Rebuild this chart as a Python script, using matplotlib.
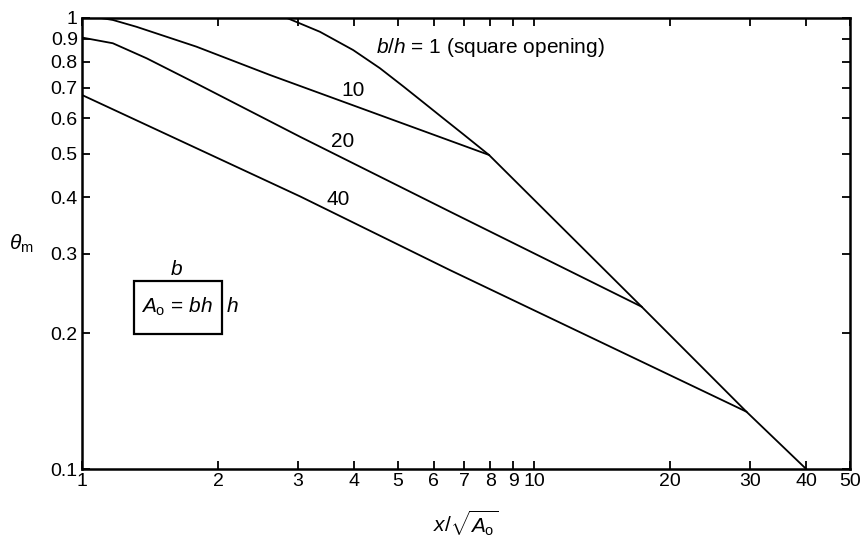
import matplotlib
matplotlib.use("Agg")
import matplotlib.pyplot as plt
from matplotlib.ticker import FixedLocator, NullFormatter, FixedFormatter
from matplotlib.patches import Rectangle

plt.rcParams["font.family"] = ["Liberation Sans", "DejaVu Sans"]
plt.rcParams["mathtext.fontset"] = "custom"
plt.rcParams["mathtext.it"] = "Liberation Sans:italic"
plt.rcParams["mathtext.rm"] = "Liberation Sans"

# curve data (x/sqrt(Ao), theta_m)
x_sq = [2.84, 3.36, 3.98, 4.56, 5.14, 5.69, 6.30, 6.98, 7.95, 17.3, 29.5, 40.0]
y_sq = [1.0, 0.932, 0.849, 0.774, 0.705, 0.650, 0.599, 0.552, 0.497, 0.229, 0.134, 0.10]

x_10 = [1.10, 1.17, 1.32, 1.79, 2.61, 7.95]
y_10 = [1.0, 0.99, 0.956, 0.864, 0.747, 0.497]

x_20 = [1.0, 1.17, 1.39, 1.79, 3.04, 6.52, 17.3]
y_20 = [0.905, 0.879, 0.814, 0.716, 0.545, 0.372, 0.229]

x_40 = [1.0, 3.04, 6.52, 29.5]
y_40 = [0.675, 0.402, 0.276, 0.134]

x_ticks = [1, 2, 3, 4, 5, 6, 7, 8, 9, 10, 20, 30, 40, 50]
y_ticks = [0.1, 0.2, 0.3, 0.4, 0.5, 0.6, 0.7, 0.8, 0.9, 1]

fig = plt.figure(figsize=(8.64, 5.37), dpi=100)
ax = fig.add_axes([0.0949, 0.1266, 0.8889, 0.8399])

for xs, ys in [(x_sq, y_sq), (x_10, y_10), (x_20, y_20), (x_40, y_40)]:
    ax.plot(xs, ys, color="black", lw=1.3)

ax.set_xscale("log")
ax.set_yscale("log")
ax.set_xlim(1, 50)
ax.set_ylim(0.1, 1)

ax.xaxis.set_major_locator(FixedLocator(x_ticks))
ax.xaxis.set_major_formatter(FixedFormatter([str(v) for v in x_ticks]))
ax.xaxis.set_minor_locator(FixedLocator([]))
ax.xaxis.set_minor_formatter(NullFormatter())
ax.yaxis.set_major_locator(FixedLocator(y_ticks))
ax.yaxis.set_major_formatter(FixedFormatter([f"{v:g}" for v in y_ticks]))
ax.yaxis.set_minor_locator(FixedLocator([]))
ax.yaxis.set_minor_formatter(NullFormatter())

ax.tick_params(which="both", direction="in", length=6, width=1.3,
               top=True, right=True, labelsize=14, pad=3)
for s in ax.spines.values():
    s.set_linewidth(1.8)

ax.set_ylabel(r"$\theta_{\rm m}$", rotation=0, fontsize=15, labelpad=21, va="center")
ax.set_xlabel(r"$x/\sqrt{A_{\rm o}}$", fontsize=15, labelpad=13)

# curve labels
ax.text(4.47, 0.862, r"$b/h$ = 1 (square opening)", fontsize=15, va="center")
ax.text(3.98, 0.692, "10", fontsize=15, ha="center", va="center")
ax.text(3.78, 0.531, "20", fontsize=15, ha="center", va="center")
ax.text(3.68, 0.395, "40", fontsize=15, ha="center", va="center")

# inset sketch of the opening
ax.add_patch(Rectangle((1.30, 0.199), 0.74, 0.062, fill=False, lw=1.6, ec="black"))
ax.text(1.62, 0.277, r"$b$", fontsize=15, ha="center", va="center")
ax.text(1.62, 0.229, r"$A_{\rm o}$ = $bh$", fontsize=15, ha="center", va="center")
ax.text(2.085, 0.229, r"$h$", fontsize=15, ha="left", va="center")

fig.savefig("out.png", dpi=100)
